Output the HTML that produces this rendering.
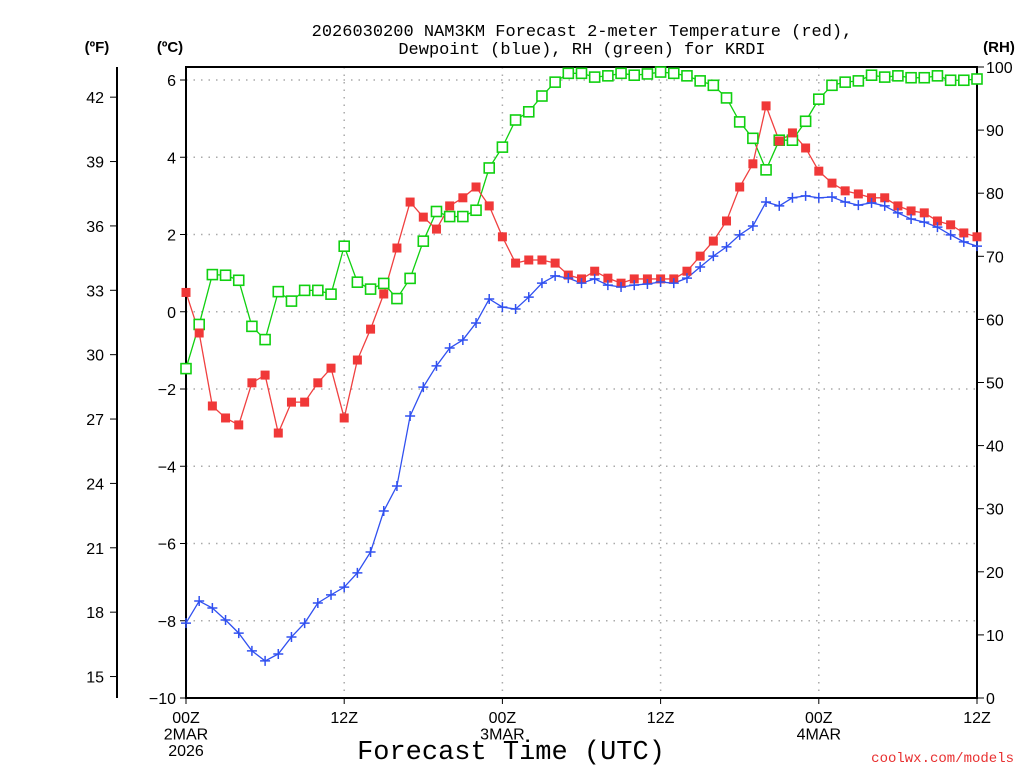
<!DOCTYPE html>
<html><head><meta charset="utf-8"><style>
html,body{margin:0;padding:0;background:#fff;}
svg text{font-family:"Liberation Sans",sans-serif;}
svg text.mono{font-family:"Liberation Mono",monospace;}
</style></head><body>
<svg id="chart" width="1024" height="768" xmlns="http://www.w3.org/2000/svg">
<g id="grid"></g><g id="axes"></g><g id="series"></g>
<text class="mono" x="582" y="36" font-size="17" text-anchor="middle">2026030200 NAM3KM Forecast 2-meter Temperature (red),</text>
<text class="mono" x="582" y="54" font-size="17" text-anchor="middle">Dewpoint (blue), RH (green) for KRDI</text>
<text x="97" y="52" font-size="15" font-weight="bold" text-anchor="middle">(ºF)</text>
<text x="170" y="52" font-size="15" font-weight="bold" text-anchor="middle">(ºC)</text>
<text x="999" y="52" font-size="15" font-weight="bold" text-anchor="middle">(RH)</text>
<text class="mono" x="511" y="759" font-size="27" text-anchor="middle">Forecast Time (UTC)</text>
<text class="mono" x="1014" y="762" font-size="14" fill="#e83030" text-anchor="end">coolwx.com/models</text>
</svg>
<script>
const hours = [];
for (let h = 0; h <= 60; h++) hours.push(h);
const tempC = [0.5,-0.55,-2.44,-2.75,-2.93,-1.84,-1.64,-3.14,-2.34,-2.34,-1.84,-1.46,-2.75,-1.25,-0.45,0.46,1.65,2.84,2.45,2.14,2.74,2.95,3.23,2.74,1.94,1.26,1.34,1.34,1.26,0.95,0.85,1.05,0.87,0.74,0.85,0.85,0.85,0.85,1.05,1.44,1.83,2.35,3.23,3.83,5.33,4.42,4.63,4.24,3.64,3.33,3.13,3.05,2.95,2.95,2.74,2.61,2.56,2.35,2.25,2.04,1.94];
const dewC = [-8.06,-7.49,-7.67,-7.98,-8.32,-8.78,-9.04,-8.86,-8.42,-8.06,-7.54,-7.33,-7.13,-6.76,-6.22,-5.16,-4.51,-2.70,-1.95,-1.40,-0.94,-0.73,-0.29,0.33,0.12,0.07,0.38,0.74,0.93,0.87,0.74,0.85,0.69,0.64,0.69,0.72,0.77,0.74,0.87,1.16,1.44,1.68,1.99,2.22,2.84,2.74,2.95,3.00,2.95,2.97,2.84,2.76,2.82,2.74,2.56,2.40,2.32,2.19,1.99,1.81,1.70];
const rh = [52.2,59.2,67.1,67.0,66.2,58.9,56.8,64.4,62.9,64.6,64.6,64.0,71.6,65.9,64.8,65.7,63.3,66.5,72.4,77.1,76.3,76.3,77.3,84.0,87.3,91.6,92.9,95.4,97.6,99.0,99.0,98.4,98.6,99.0,98.7,98.9,99.2,99.0,98.6,97.8,97.1,95.1,91.3,88.7,83.7,88.4,88.4,91.4,94.9,97.1,97.6,97.8,98.7,98.4,98.6,98.3,98.3,98.6,97.9,97.9,98.1];
const cTicks = [-10,-8,-6,-4,-2,0,2,4,6];
const fTicks = [15,18,21,24,27,30,33,36,39,42];
const rhTicks = [0,10,20,30,40,50,60,70,80,90,100];
const xTickHours = [0,12,24,36,48,60];
const xTickLabels = [["00Z","2MAR","2026"],["12Z"],["00Z","3MAR"],["12Z"],["00Z","4MAR"],["12Z"]];

const X0=186,X1=977,YT=67,YB=698;
const xs = h => X0 + (X1-X0)*h/60;
const yc = c => 698 - (c+10)*(698-80)/16;
const yr = r => YB - (YB-YT)*r/100;
const NS="http://www.w3.org/2000/svg";
function mk(parent,tag,attrs){const e=document.createElementNS(NS,tag);for(const k in attrs)e.setAttribute(k,attrs[k]);parent.appendChild(e);return e;}
const grid=document.getElementById('grid'),axes=document.getElementById('axes'),ser=document.getElementById('series');

cTicks.forEach(c=>{
  const y=yc(c);
  if(c>-10){const g=mk(grid,'line',{x1:X0,x2:X1,y1:y,y2:y,stroke:'#aaa','stroke-width':1.5,'stroke-dasharray':'1.5 6'});
  
  }
  const t=mk(axes,'line',{x1:X0-6,x2:X0,y1:y,y2:y,stroke:'#000','stroke-width':1});
  
  
  const l=mk(axes,'text',{x:X0-10,y:y+6,'font-size':16,'text-anchor':'end'});l.textContent=c===-10?'−10':(c<0?'−'+(-c):c);
  
  
});
fTicks.forEach(f=>{
  const y=yc((f-32)*5/9);
  const t=mk(axes,'line',{x1:110,x2:117,y1:y,y2:y,stroke:'#000','stroke-width':1});
  
  
  const l=mk(axes,'text',{x:104,y:y+6,'font-size':16,'text-anchor':'end'});l.textContent=f;
  
  
});
rhTicks.forEach(r=>{
  const y=yr(r);
  const t=mk(axes,'line',{x1:X1,x2:X1+7,y1:y,y2:y,stroke:'#000','stroke-width':1});
  
  
  const l=mk(axes,'text',{x:X1+9,y:y+6,'font-size':16});l.textContent=r;
  
  
});
xTickHours.forEach((h,i)=>{
  const x=xs(h);
  if(h>0&&h<60){const g=mk(grid,'line',{x1:x,x2:x,y1:YT,y2:YB,stroke:'#aaa','stroke-width':1.5,'stroke-dasharray':'1.5 6'});
  
  }
  const t=mk(axes,'line',{x1:x,x2:x,y1:YB,y2:YB+6,stroke:'#000','stroke-width':1});
  
  
  xTickLabels[i].forEach((s,j)=>{
    const l=mk(axes,'text',{x:x,y:723+j*16.5,'font-size':16,'text-anchor':'middle'});l.textContent=s;
    
    
  });
});
const fr=mk(axes,'rect',{x:X0,y:YT,width:X1-X0,height:YB-YT,fill:'none',stroke:'#000','stroke-width':2});


const fa=mk(axes,'line',{x1:117,x2:117,y1:YT,y2:YB,stroke:'#000','stroke-width':2});



function line(vals,fy,color,name){
  const p=mk(ser,'polyline',{points:vals.map((v,i)=>xs(hours[i])+','+fy(v)).join(' '),fill:'none',stroke:color,'stroke-width':1.3});
  
  
}
line(rh,yr,'#10d010','rh-line');
line(tempC,yc,'#f04040','temperature-line');
line(dewC,yc,'#3050f0','dewpoint-line');
rh.forEach((v,i)=>{
  const m=mk(ser,'rect',{x:xs(hours[i])-5,y:yr(v)-5,width:10,height:10,fill:'#fff',stroke:'#10d010','stroke-width':1.6});
  
  
});
tempC.forEach((v,i)=>{
  const m=mk(ser,'rect',{x:xs(hours[i])-4.5,y:yc(v)-4.5,width:9,height:9,fill:'#f03838'});
  
  
});
dewC.forEach((v,i)=>{
  const x=xs(hours[i]),y=yc(v);
  const m=mk(ser,'path',{d:`M${x-5},${y}H${x+5}M${x},${y-5}V${y+5}`,stroke:'#3050f0','stroke-width':1.5,fill:'none'});
  
  
});
</script>
</body></html>
